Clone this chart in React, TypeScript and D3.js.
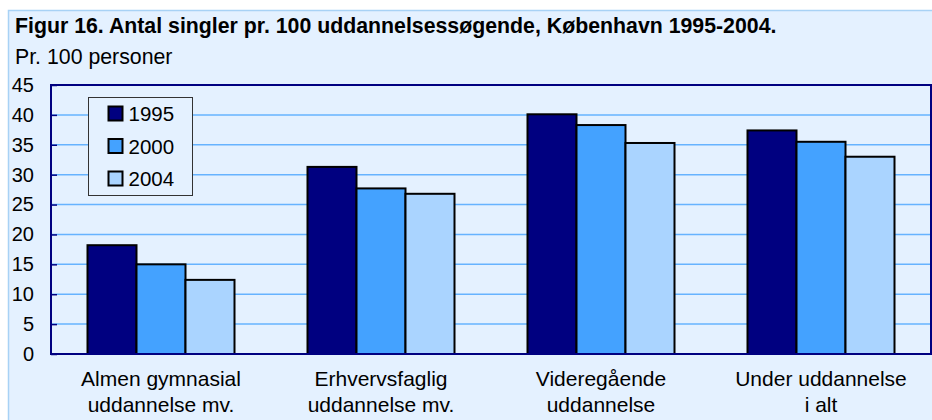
import { useEffect, useRef } from "react";
import * as d3 from "d3";

const CATEGORIES = [
  ["Almen gymnasial", "uddannelse mv."],
  ["Erhvervsfaglig", "uddannelse mv."],
  ["Videregående", "uddannelse"],
  ["Under uddannelse", "i alt"],
];
const SERIES = ["1995", "2000", "2004"];
const VALUES_1995 = [18.2, 31.3, 40.1, 37.4];
const VALUES_2000 = [15.0, 27.7, 38.3, 35.5];
const VALUES_2004 = [12.4, 26.8, 35.3, 33.0];
const Y_TICKS = [0, 5, 10, 15, 20, 25, 30, 35, 40, 45];

const COLORS = ["#000080", "#44a2ff", "#aad4ff"];
const FONT = "'Liberation Sans', Arial, sans-serif";

const App = () => {
  const svgRef = useRef<SVGSVGElement>(null);

  useEffect(() => {
    if (!svgRef.current) return;
    const width = 932;
    const height = 420;
    const plot = { left: 51, right: 931, top: 85, bottom: 354 };

    const svg = d3.select(svgRef.current);
    svg.selectAll("*").remove();
    svg.attr("width", width).attr("height", height);

    // Frame
    svg
      .append("rect")
      .attr("x", 8.5)
      .attr("y", 10.5)
      .attr("width", 940)
      .attr("height", 430)
      .attr("fill", "#e4f1ff")
      .attr("stroke", "#a8d2f5")
      .attr("stroke-width", 1.5);

    // Titles
    svg
      .append("text")
      .attr("x", 15)
      .attr("y", 33)
      .attr("font-family", FONT)
      .attr("font-weight", "bold")
      .attr("font-size", "21.3px")
      .attr("fill", "#000")
      .text("Figur 16. Antal singler pr. 100 uddannelsessøgende, København 1995-2004.");

    svg
      .append("text")
      .attr("x", 15)
      .attr("y", 64)
      .attr("font-family", FONT)
      .attr("font-size", "21.3px")
      .attr("fill", "#000")
      .text("Pr. 100 personer");

    const data = CATEGORIES.map((c, i) => ({
      key: c.join(" "),
      lines: c,
      values: [VALUES_1995[i], VALUES_2000[i], VALUES_2004[i]],
    }));

    const x0 = d3
      .scaleBand()
      .domain(data.map((d) => d.key))
      .range([plot.left, plot.right]);
    const groupW = 147;
    const x1 = d3
      .scaleBand()
      .domain(SERIES)
      .range([(x0.bandwidth() - groupW) / 2, (x0.bandwidth() + groupW) / 2]);

    const y = d3.scaleLinear().domain([0, 45]).range([plot.bottom, plot.top]);

    // Gridlines
    svg
      .append("g")
      .selectAll("line")
      .data(Y_TICKS.filter((t) => t > 0 && t < 45))
      .join("line")
      .attr("x1", plot.left)
      .attr("x2", plot.right)
      .attr("y1", (d) => y(d))
      .attr("y2", (d) => y(d))
      .attr("stroke", "#66b3ff")
      .attr("stroke-width", 1.5);

    // Bars
    svg
      .append("g")
      .selectAll("g")
      .data(data)
      .join("g")
      .attr("transform", (d) => `translate(${x0(d.key)},0)`)
      .selectAll("rect")
      .data((d) => d.values.map((v, i) => ({ v, s: SERIES[i], i })))
      .join("rect")
      .attr("x", (d) => x1(d.s)!)
      .attr("y", (d) => y(d.v))
      .attr("width", x1.bandwidth())
      .attr("height", (d) => y(0) - y(d.v))
      .attr("fill", (d) => COLORS[d.i])
      .attr("stroke", "#000")
      .attr("stroke-width", 2);

    // Plot border
    svg
      .append("rect")
      .attr("x", plot.left)
      .attr("y", plot.top)
      .attr("width", plot.right - plot.left)
      .attr("height", plot.bottom - plot.top)
      .attr("fill", "none")
      .attr("stroke", "#000080")
      .attr("stroke-width", 2);

    // Y axis
    const yAxis = svg
      .append("g")
      .attr("transform", `translate(${plot.left},0)`)
      .call(d3.axisLeft(y).tickValues(Y_TICKS).tickSize(-6).tickPadding(17).tickFormat(d3.format("d")));
    yAxis.select(".domain").remove();
    yAxis.selectAll("line").attr("stroke", "#000080").attr("stroke-width", 1.5);
    yAxis
      .selectAll("text")
      .attr("font-family", FONT)
      .attr("font-size", "20px")
      .attr("fill", "#000");

    // X labels
    const xl = svg.append("g");
    data.forEach((d) => {
      const cx = x0(d.key)! + x0.bandwidth() / 2;
      d.lines.forEach((line, j) => {
        xl.append("text")
          .attr("x", cx)
          .attr("y", 386 + j * 25.5)
          .attr("text-anchor", "middle")
          .attr("font-family", FONT)
          .attr("font-size", "21px")
          .attr("fill", "#000")
          .text(line);
      });
    });

    // Legend
    const legend = svg.append("g").attr("transform", "translate(88.5,97.5)");
    legend
      .append("rect")
      .attr("width", 104)
      .attr("height", 98)
      .attr("fill", "#e4f1ff")
      .attr("stroke", "#333")
      .attr("stroke-width", 1);
    SERIES.forEach((s, i) => {
      const g = legend.append("g").attr("transform", `translate(20,${9 + i * 32.5})`);
      g.append("rect")
        .attr("width", 14)
        .attr("height", 14)
        .attr("fill", COLORS[i])
        .attr("stroke", "#000")
        .attr("stroke-width", 2);
      g.append("text")
        .attr("x", 20)
        .attr("y", 14.5)
        .attr("font-family", FONT)
        .attr("font-size", "20.5px")
        .attr("fill", "#000")
        .text(s);
    });
  }, []);

  return (
    <svg
      ref={svgRef}
      style={{ position: "absolute", left: 0, top: 0, display: "block" }}
    />
  );
};

export default App;
